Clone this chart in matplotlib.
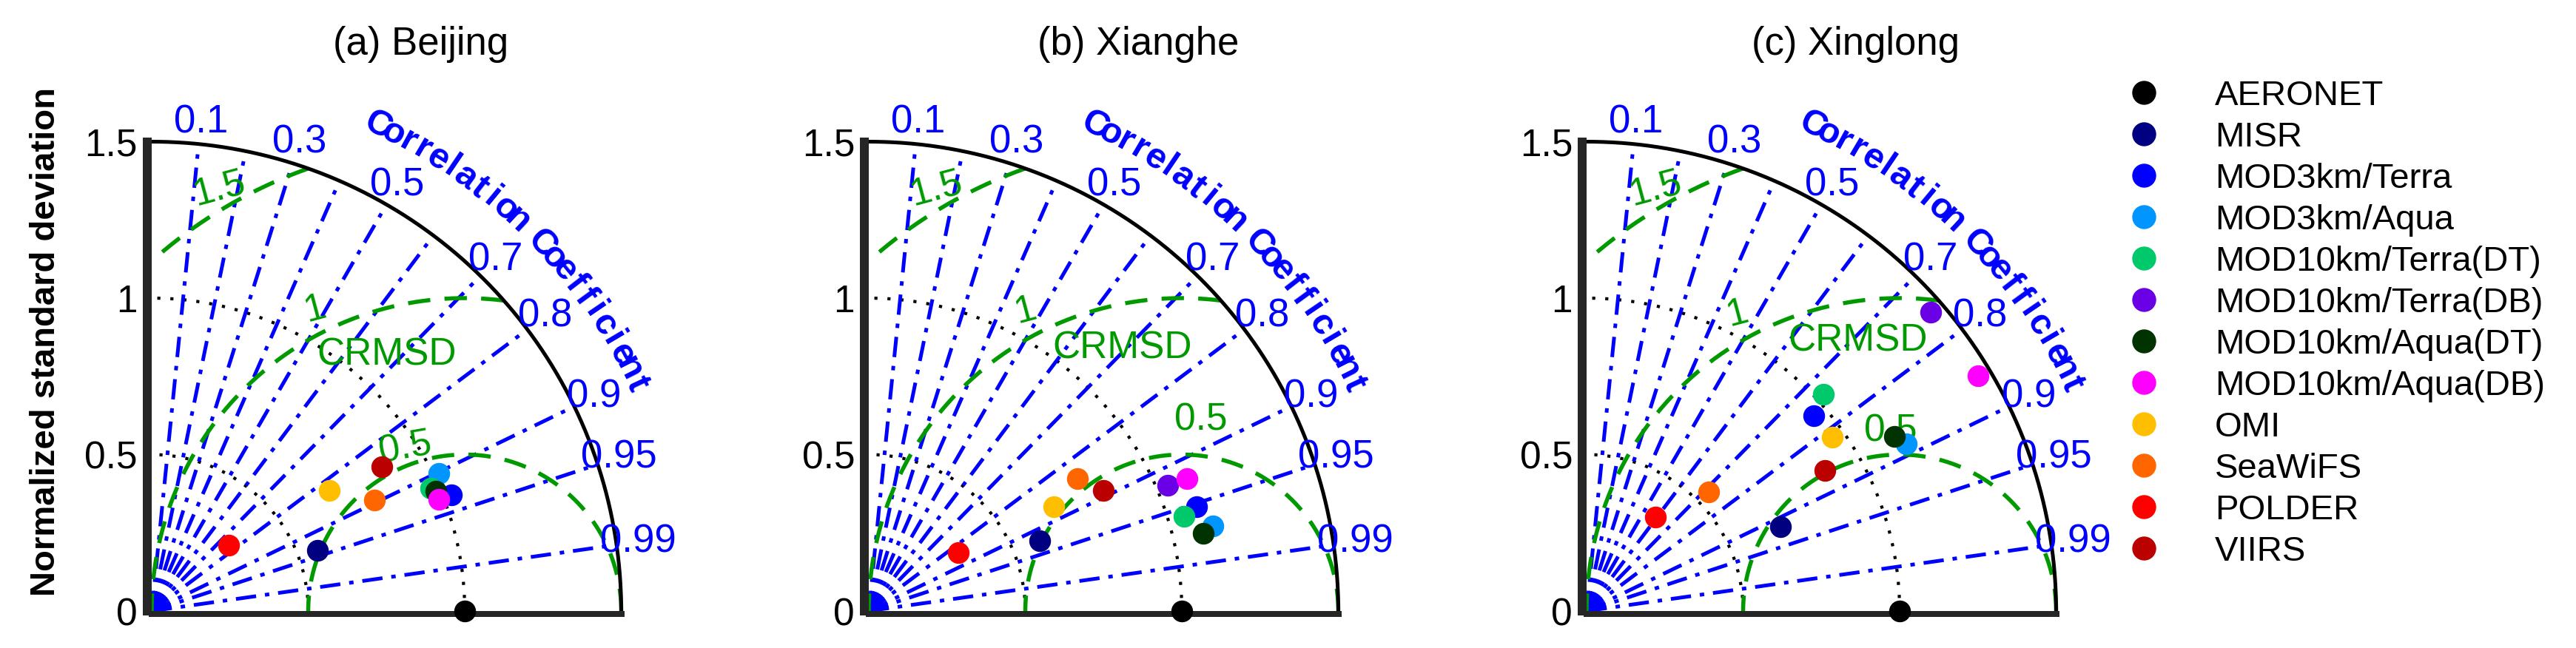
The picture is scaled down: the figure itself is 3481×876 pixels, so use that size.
import numpy as np
import matplotlib
matplotlib.use('Agg')
import matplotlib.pyplot as plt

plt.rcParams['font.family'] = ['Liberation Sans', 'DejaVu Sans']

W, H, DPI = 3481, 876, 100
PX = 72.0 / DPI  # points per pixel

# ---------------- data ----------------
titles = ['(a) Beijing', '(b) Xianghe', '(c) Xinglong']
products = ['AERONET', 'MISR', 'MOD3km/Terra', 'MOD3km/Aqua',
            'MOD10km/Terra(DT)', 'MOD10km/Terra(DB)', 'MOD10km/Aqua(DT)',
            'MOD10km/Aqua(DB)', 'OMI', 'SeaWiFS', 'POLDER', 'VIIRS']
colors = ['#000000', '#000080', '#0000ff', '#0095ff', '#00c96b', '#6a00e6',
          '#003300', '#ff00ff', '#ffbf00', '#ff6600', '#ff0000', '#bb0000']

# normalized standard deviation and correlation coefficient per product
std_beijing = [1.0, 0.563, 1.027, 1.017, 0.975, np.nan, 0.986, 0.984, 0.685, 0.794, 0.324, 0.867]
cor_beijing = [1.0, 0.939, 0.932, 0.902, 0.915, np.nan, 0.921, 0.932, 0.827, 0.895, 0.762, 0.847]
std_xianghe = [1.0, 0.590, 1.100, 1.133, 1.052, 1.037, 1.098, 1.101, 0.678, 0.790, 0.342, 0.843]
cor_xianghe = [1.0, 0.924, 0.953, 0.971, 0.958, 0.922, 0.974, 0.923, 0.871, 0.844, 0.837, 0.889]
std_xinglong = [1.0, 0.676, 0.957, 1.153, 1.025, 1.455, 1.131, 1.458, 0.963, 0.545, 0.372, 0.884]
cor_xinglong = [1.0, 0.917, 0.758, 0.886, 0.737, 0.755, 0.870, 0.857, 0.816, 0.716, 0.591, 0.862]
stds = [std_beijing, std_xianghe, std_xinglong]
cors = [cor_beijing, cor_xianghe, cor_xinglong]

cor_ticks = [0.1, 0.2, 0.3, 0.4, 0.5, 0.6, 0.7, 0.8, 0.9, 0.95, 0.99]
cor_labels = {0.1: '0.1', 0.3: '0.3', 0.5: '0.5', 0.7: '0.7', 0.8: '0.8',
              0.9: '0.9', 0.95: '0.95', 0.99: '0.99'}
std_ticks = [0, 0.5, 1, 1.5]
std_ticklabels = ['0', '0.5', '1', '1.5']
std_contours = [0.5, 1.0]
rms_contours = [0.5, 1.0, 1.5]
rms_labels = ['0.5', '1', '1.5']
std_max = 1.5

# CRMSD label placement per panel: (x, y, rotation)
rms_label_pos = [
    [(0.81, 0.52, 10), (0.52, 0.965, 15), (0.215, 1.35, 15)],
    [(1.06, 0.61, 0), (0.50, 0.96, 15), (0.215, 1.35, 15)],
    [(0.97, 0.575, 0), (0.48, 0.949, 15), (0.22, 1.35, 15)],
]
crmsd_label_pos = [(0.752, 0.818), (0.81, 0.84), (0.867, 0.862)]

# ---------------- layout ----------------
fig = plt.figure(figsize=(W / DPI, H / DPI), dpi=DPI)
scale = 423.0             # pixels per unit
lim = 1.72
size_px = lim * scale
origins_x = [205, 1174, 2144]
origin_y = 826

BLUE = '#0000ff'
GREEN = '#009900'
AXC = '#262626'

for k in range(3):
    ax = fig.add_axes([origins_x[k] / W, (H - origin_y) / H, size_px / W, size_px / H])
    ax.set_xlim(0, lim)
    ax.set_ylim(0, lim)
    ax.patch.set_alpha(0)
    for s in ['top', 'right']:
        ax.spines[s].set_visible(False)
    ax.spines['left'].set_position(('outward', 6 * PX))
    ax.spines['left'].set_linewidth(12 * PX)
    ax.spines['bottom'].set_position(('outward', 4 * PX))
    ax.spines['bottom'].set_linewidth(8 * PX)
    for s in ['left', 'bottom']:
        ax.spines[s].set_color(AXC)
        ax.spines[s].set_bounds(0, std_max)
        ax.spines[s].set_capstyle('projecting')
    ax.set_xticks([])
    ax.set_yticks(std_ticks)
    ax.set_yticklabels(std_ticklabels)
    ax.tick_params(axis='y', length=0, pad=13 * PX, labelsize=37, labelcolor='black')

    th = np.linspace(0, np.pi / 2, 400)
    ax.plot(std_max * np.cos(th), std_max * np.sin(th), color='black', lw=5 * PX,
            solid_capstyle='butt', zorder=3, clip_on=False)

    for r in std_contours:
        ax.plot(r * np.cos(th), r * np.sin(th), color='black', lw=4.2 * PX,
                linestyle=(0, (1, 3.2)), zorder=2)

    for c in cor_ticks:
        a = np.arccos(c)
        ax.plot([0, std_max * np.cos(a)], [0, std_max * np.sin(a)], color=BLUE,
                lw=5 * PX, dashes=(5.5, 2.4, 1.2, 2.4), zorder=2,
                dash_capstyle='butt')
        if c in cor_labels:
            rl = 1.57
            ax.text(rl * np.cos(a), rl * np.sin(a), cor_labels[c], color=BLUE,
                    fontsize=38, ha='center', va='center', clip_on=False, zorder=4)

    phi = np.linspace(0, np.pi, 800)
    for r in rms_contours:
        xx = 1 + r * np.cos(phi)
        yy = r * np.sin(phi)
        m = (xx ** 2 + yy ** 2 <= std_max ** 2 + 1e-9) & (xx >= 0)
        xx = np.where(m, xx, np.nan)
        yy = np.where(m, yy, np.nan)
        ax.plot(xx, yy, color=GREEN, lw=5.5 * PX, dashes=(5.5, 3.5), zorder=2.5)
    for (lx, ly, rot), lab in zip(rms_label_pos[k], rms_labels):
        ax.text(lx, ly, lab, color=GREEN, fontsize=37, ha='center', va='center',
                rotation=rot, rotation_mode='anchor', zorder=4)
    cx, cy = crmsd_label_pos[k]
    ax.text(cx, cy, 'CRMSD', color=GREEN, fontsize=37, ha='center', va='center', zorder=4)

    text = 'Correlation Coefficient'
    angs = np.linspace(65.0, 25.1, len(text))
    for ch, ang in zip(text, angs):
        if ch == ' ':
            continue
        ra = np.deg2rad(ang)
        ax.text(1.71 * np.cos(ra), 1.71 * np.sin(ra), ch, color=BLUE, fontsize=35,
                fontweight='bold', rotation=ang - 90, rotation_mode='anchor',
                ha='center', va='center', clip_on=False, zorder=4)

    sd = np.array(stds[k], dtype=float)
    cr = np.array(cors[k], dtype=float)
    px = sd * cr
    py = sd * np.sqrt(np.clip(1 - cr ** 2, 0, None))
    for i in range(len(products)):
        if np.isnan(sd[i]):
            continue
        ax.plot(px[i], py[i], 'o', ms=28 * PX, color=colors[i], mec=colors[i],
                zorder=10 if i == 0 else 5 + i * 0.01, clip_on=False)

    ax.set_title(titles[k], fontsize=38, pad=24 * PX)

fig.text(62 / W, 1 - 462 / H, 'Normalized standard deviation', rotation=90,
         ha='center', va='center', fontsize=34, fontweight='bold')

# ---------------- legend ----------------
lax = fig.add_axes([0, 0, 1, 1])
lax.set_xlim(0, W)
lax.set_ylim(H, 0)
lax.axis('off')
lax.patch.set_alpha(0)
for i, (name, col) in enumerate(zip(products, colors)):
    yy = 125 + i * 56
    lax.plot(2897, yy, 'o', ms=31 * PX, color=col, mec=col)
    lax.text(2993, yy + 17, name, fontsize=34, ha='left', va='baseline')

fig.savefig('out.png', dpi=DPI)
